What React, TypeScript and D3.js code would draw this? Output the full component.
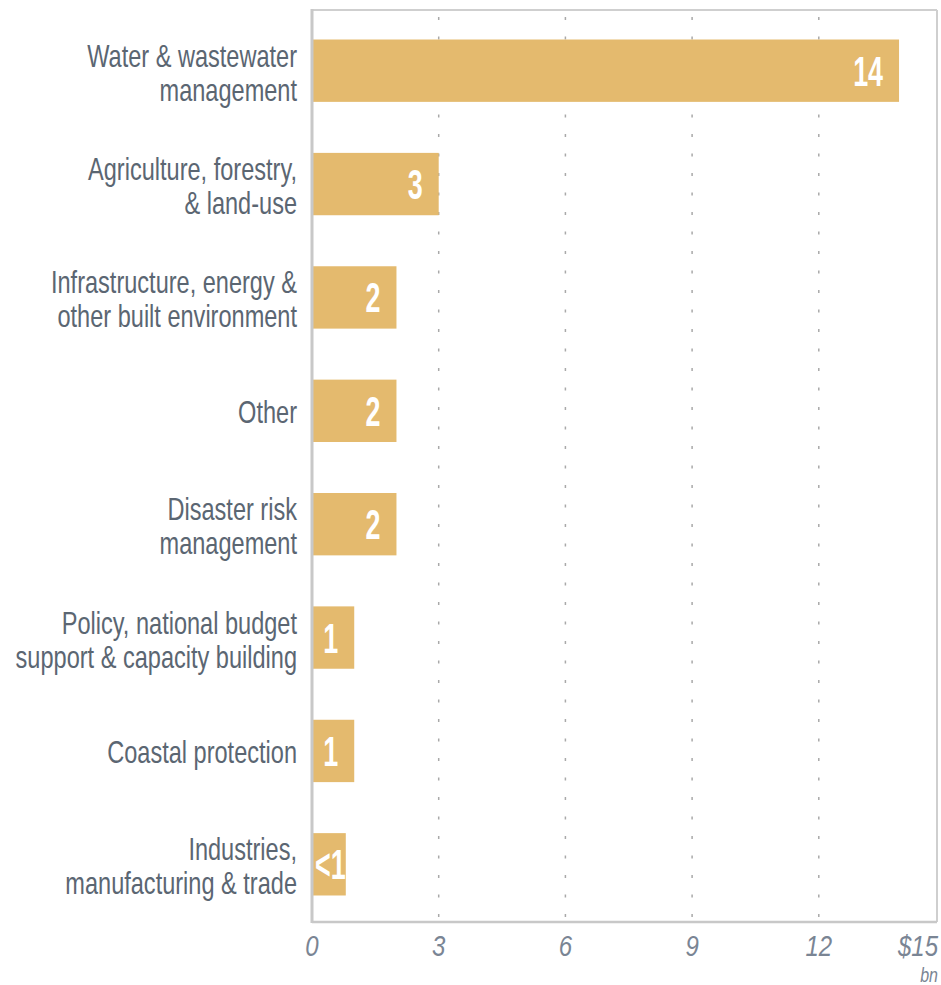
import React from "react";
import * as d3 from "d3";

const categories: string[][] = [
  ["Water & wastewater", "management"],
  ["Agriculture, forestry,", "& land-use"],
  ["Infrastructure, energy &", "other built environment"],
  ["Other"],
  ["Disaster risk", "management"],
  ["Policy, national budget", "support & capacity building"],
  ["Coastal protection"],
  ["Industries,", "manufacturing & trade"],
];
const values: number[] = [13.9, 3, 2, 2, 2, 1, 1, 0.8];
const valueLabels: string[] = ["14", "3", "2", "2", "2", "1", "1", "<1"];
const ticks: number[] = [0, 3, 6, 9, 12, 15];
const tickLabels: string[] = ["0", "3", "6", "9", "12", "$15"];

const W = 941;
const H = 985;
const left = 312;
const frameRight = 937;
const top = 10;
const bottom = 922;

const BAR = "#E4BA6E";
const TEXT = "#5b6672";
const TICK = "#7a8594";
const FONT = "'Liberation Sans', Arial, sans-serif";

export default function App() {
  const x = d3.scaleLinear().domain([0, 15]).range([left, 945.5]);
  const y = d3
    .scaleBand<number>()
    .domain(d3.range(categories.length))
    .range([14, 921])
    .paddingInner(0.45)
    .paddingOuter(0.225);
  const bw = y.bandwidth();

  return (
    <svg
      width={W}
      height={H}
      style={{ position: "absolute", left: 0, top: 0, display: "block" }}
    >
      <rect x={0} y={0} width={W} height={H} fill="#fff" />
      {/* frame */}
      <line x1={left} x2={frameRight} y1={top} y2={top} stroke="#cfcfcf" strokeWidth={2} />
      <line x1={frameRight} x2={frameRight} y1={top} y2={bottom} stroke="#cfcfcf" strokeWidth={2} />
      {/* grid */}
      {ticks
        .filter((t) => t > 0 && t < 15)
        .map((t) => (
          <line
            key={"g" + t}
            x1={x(t)}
            x2={x(t)}
            y1={top + 7}
            y2={bottom}
            stroke="#a9a9a9"
            strokeWidth={1.5}
            strokeDasharray="3 16.5"
          />
        ))}
      {/* bars */}
      {values.map((v, i) => {
        const y0 = y(i)!;
        const cy = y0 + bw / 2;
        const small = v < 1;
        return (
          <g key={"b" + i}>
            <rect x={x(0)} y={y0} width={x(v) - x(0)} height={bw} fill={BAR} />
            <g
              transform={`translate(${small ? x(0) + 3 : x(v) - 16},${cy + 15}) scale(0.64,1)`}
            >
              <text
                x={0}
                y={0}
                textAnchor={small ? "start" : "end"}
                fill="#fff"
                fontFamily={FONT}
                fontWeight="bold"
                fontSize={42}
              >
                {valueLabels[i]}
              </text>
            </g>
          </g>
        );
      })}
      {/* category labels */}
      {categories.map((lines, i) => {
        const cy = y(i)! + bw / 2;
        const offs = lines.length === 1 ? [12] : [-4, 30];
        return (
          <g key={"c" + i}>
            {lines.map((ln, j) => (
              <g key={j} transform={`translate(297,${cy + offs[j]}) scale(0.76,1)`}>
                <text
                  x={0}
                  y={0}
                  textAnchor="end"
                  fill={TEXT}
                  fontFamily={FONT}
                  fontSize={31}
                >
                  {ln}
                </text>
              </g>
            ))}
          </g>
        );
      })}
      {/* axes lines */}
      <line x1={left} x2={frameRight} y1={bottom} y2={bottom} stroke="#c8c8c8" strokeWidth={2.5} />
      <line x1={left} x2={left} y1={top - 1} y2={bottom + 1} stroke="#c8c8c8" strokeWidth={3} />
      {/* tick labels */}
      {ticks.map((t, i) => {
        const last = i === ticks.length - 1;
        return (
          <g key={"t" + t} transform={`translate(${last ? 938 : x(t)},956) scale(0.8,1)`}>
            <text
              x={0}
              y={0}
              textAnchor={last ? "end" : "middle"}
              fill={TICK}
              fontFamily={FONT}
              fontStyle="italic"
              fontSize={30}
            >
              {tickLabels[i]}
            </text>
          </g>
        );
      })}
      <g transform="translate(938,982) scale(0.8,1)">
        <text
          x={0}
          y={0}
          textAnchor="end"
          fill={TICK}
          fontFamily={FONT}
          fontStyle="italic"
          fontSize={20}
        >
          bn
        </text>
      </g>
    </svg>
  );
}
